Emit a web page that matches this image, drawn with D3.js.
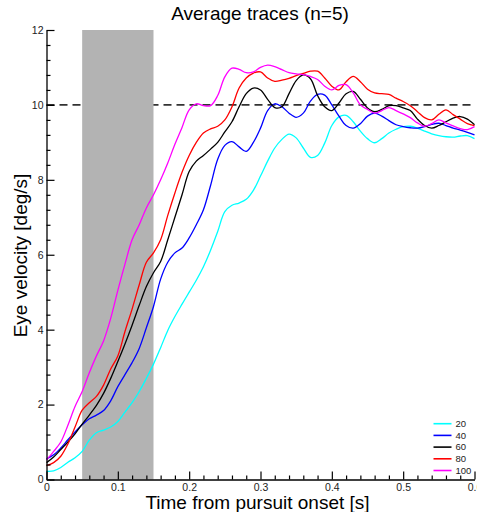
<!DOCTYPE html>
<html><head><meta charset="utf-8">
<script src="https://cdn.jsdelivr.net/npm/d3@7"></script>
<style>body{margin:0;background:#fff;} svg{display:block;font-family:"Liberation Sans",Arial,sans-serif;}</style>
</head><body><svg id="chart" width="477" height="512"></svg>
<script>
const times = [0,0.01,0.02,0.03,0.04,0.05,0.06,0.07,0.08,0.09,0.10,0.11,0.12,0.13,0.14,0.15,0.16,0.17,0.18,0.19,0.20,0.21,0.22,0.23,0.24,0.25,0.26,0.27,0.28,0.29,0.30,0.31,0.32,0.33,0.34,0.35,0.36,0.37,0.38,0.39,0.40,0.41,0.42,0.43,0.44,0.45,0.46,0.47,0.48,0.49,0.50,0.51,0.52,0.53,0.54,0.55,0.56,0.57,0.58,0.59,0.60];

const v20 = [0.22,0.23,0.32,0.46,0.58,0.75,1.05,1.25,1.32,1.40,1.55,1.80,2.05,2.35,2.70,3.08,3.52,3.98,4.35,4.68,5.00,5.32,5.68,6.12,6.62,7.15,7.32,7.38,7.48,7.72,8.10,8.50,8.85,9.08,9.22,9.12,8.85,8.60,8.65,8.98,9.45,9.68,9.72,9.55,9.30,9.10,8.99,9.10,9.25,9.35,9.42,9.43,9.38,9.30,9.23,9.18,9.15,9.14,9.17,9.18,9.10];
const v40 = [0.55,0.66,0.84,1.06,1.27,1.46,1.62,1.72,1.84,2.10,2.48,2.80,3.12,3.50,4.05,4.62,5.35,5.80,6.05,6.18,6.45,6.80,7.20,7.85,8.55,8.92,9.02,8.88,8.76,9.00,9.38,9.85,10.03,9.95,9.78,9.67,9.78,10.10,10.28,10.26,10.00,9.70,9.45,9.38,9.50,9.70,9.78,9.70,9.58,9.47,9.42,9.39,9.38,9.42,9.48,9.51,9.45,9.38,9.33,9.27,9.20];
const v60 = [0.45,0.60,0.80,1.00,1.22,1.48,1.72,1.98,2.30,2.70,3.15,3.62,4.12,4.65,5.15,5.52,5.82,6.40,7.00,7.60,8.22,8.50,8.65,8.82,9.00,9.28,9.55,9.95,10.30,10.45,10.40,10.15,9.93,9.95,10.30,10.65,10.80,10.70,10.25,9.95,9.85,10.05,10.30,10.36,10.15,9.92,9.82,9.88,9.98,9.98,9.92,9.85,9.62,9.45,9.38,9.45,9.55,9.65,9.69,9.62,9.47];
const v80 = [0.37,0.45,0.62,0.95,1.40,1.85,2.05,2.22,2.52,2.95,3.30,3.95,4.55,5.20,5.80,6.05,6.40,7.05,7.65,8.20,8.65,9.00,9.25,9.36,9.43,9.60,9.95,10.45,10.72,10.85,10.88,10.72,10.63,10.66,10.71,10.78,10.84,10.90,10.90,10.72,10.50,10.40,10.62,10.76,10.62,10.42,10.32,10.30,10.28,10.18,10.09,9.98,9.82,9.66,9.60,9.75,9.87,9.74,9.62,9.50,9.45];
const v100 = [0.52,0.75,1.00,1.45,1.95,2.35,2.85,3.30,3.70,4.30,5.05,5.75,6.40,6.80,7.25,7.60,8.00,8.45,8.95,9.40,9.87,10.03,9.98,9.98,10.25,10.75,10.98,10.95,10.86,10.88,11.00,11.06,11.02,10.94,10.86,10.83,10.81,10.76,10.68,10.50,10.40,10.52,10.54,10.32,10.00,9.88,9.78,9.85,9.93,9.85,9.76,9.66,9.52,9.43,9.50,9.60,9.52,9.44,9.37,9.34,9.42];

const seriesLabels = ["20","40","60","80","100"];
const seriesValues = [v20, v40, v60, v80, v100];
const seriesColors = ["#00ffff","#0000ff","#000000","#ff0000","#ff00ff"];

const xTicks = [0,0.1,0.2,0.3,0.4,0.5,0.6];
const xTickLabels = ["0","0.1","0.2","0.3","0.4","0.5","0.6"];
const xMinor = [0.02,0.04,0.06,0.08,0.12,0.14,0.16,0.18,0.22,0.24,0.26,0.28,0.32,0.34,0.36,0.38,0.42,0.44,0.46,0.48,0.52,0.54,0.56,0.58];
const yTicks = [0,2,4,6,8,10,12];
const yTickLabels = ["0","2","4","6","8","10","12"];
const yMinor = [0.4,0.8,1.2,1.6,2.4,2.8,3.2,3.6,4.4,4.8,5.2,5.6,6.4,6.8,7.2,7.6,8.4,8.8,9.2,9.6,10.4,10.8,11.2,11.6];

const stimWindow = [0.05, 0.15];
const targetVelocity = 10;

const titleText = "Average traces (n=5)";
const xLabel = "Time from pursuit onset [s]";
const yLabel = "Eye velocity [deg/s]";

const svg = d3.select("#chart");
const x = d3.scaleLinear().domain([0,0.6]).range([46.5,474.5]);
const y = d3.scaleLinear().domain([0,12]).range([479.5,30]);

// target velocity dashed line
svg.append("line")
  .attr("x1", x(0)).attr("x2", x(0.6))
  .attr("y1", y(targetVelocity)).attr("y2", y(targetVelocity))
  .attr("stroke", "#333").attr("stroke-width", 1.6)
  .attr("stroke-dasharray", "8,5");

// stimulus window
svg.append("rect")
  .attr("x", x(stimWindow[0])).attr("width", x(stimWindow[1]) - x(stimWindow[0]))
  .attr("y", y(12)).attr("height", y(0) - y(12))
  .attr("fill", "#b3b3b3");

// traces
const line = d3.line()
  .x((d, i) => x(times[i]))
  .y(d => y(d))
  .curve(d3.curveCatmullRom.alpha(0.5));

seriesValues.forEach((vals, k) => {
  svg.append("path")
    .attr("d", line(vals))
    .attr("fill", "none")
    .attr("stroke", seriesColors[k])
    .attr("stroke-width", 1.3);
});

// axes
const xAxis = d3.axisBottom(x).tickValues(xTicks)
  .tickFormat((d, i) => xTickLabels[i])
  .tickSizeInner(-8).tickSizeOuter(0).tickPadding(4);
const xAxisMinor = d3.axisBottom(x).tickValues(xMinor)
  .tickFormat("").tickSizeInner(-4).tickSizeOuter(0);
const yAxis = d3.axisLeft(y).tickValues(yTicks)
  .tickFormat((d, i) => yTickLabels[i])
  .tickSizeInner(-8).tickSizeOuter(0).tickPadding(3);
const yAxisMinor = d3.axisLeft(y).tickValues(yMinor)
  .tickFormat("").tickSizeInner(-4).tickSizeOuter(0);

const gx = svg.append("g").attr("transform", `translate(0,${y(0)})`);
gx.call(xAxis);
const gxm = svg.append("g").attr("transform", `translate(0,${y(0)})`).call(xAxisMinor);
gxm.select(".domain").remove();
const gy = svg.append("g").attr("transform", `translate(${x(0)},0)`);
gy.call(yAxis);
const gym = svg.append("g").attr("transform", `translate(${x(0)},0)`).call(yAxisMinor);
gym.select(".domain").remove();

svg.selectAll(".domain").attr("stroke", "#000").attr("stroke-width", 1.3);
svg.selectAll(".tick line").attr("stroke", "#000").attr("stroke-width", 1.2);
svg.selectAll(".tick text").attr("font-size", 10.5).attr("fill", "#222")
  .attr("font-family", '"Liberation Sans", Arial, sans-serif');

// title and axis labels
svg.append("text").attr("x", 260).attr("y", 20)
  .attr("text-anchor", "middle").attr("font-size", 19).attr("fill", "#000")
  .text(titleText);
svg.append("text").attr("x", 257.5).attr("y", 508.5)
  .attr("text-anchor", "middle").attr("font-size", 19).attr("fill", "#000")
  .text(xLabel);
svg.append("text").attr("transform", "translate(27,255.5) rotate(-90)")
  .attr("text-anchor", "middle").attr("font-size", 19).attr("fill", "#000")
  .text(yLabel);

// legend
const legend = svg.append("g");
seriesLabels.forEach((lab, k) => {
  const cy = 423.7 + k * 11.7;
  legend.append("line").attr("x1", 433.5).attr("x2", 451.5)
    .attr("y1", cy).attr("y2", cy)
    .attr("stroke", seriesColors[k]).attr("stroke-width", 1.6);
  legend.append("text").attr("x", 455.5).attr("y", cy).attr("dy", "0.35em")
    .attr("font-size", 9.5).attr("fill", "#222").text(lab);
});
</script></body></html>
